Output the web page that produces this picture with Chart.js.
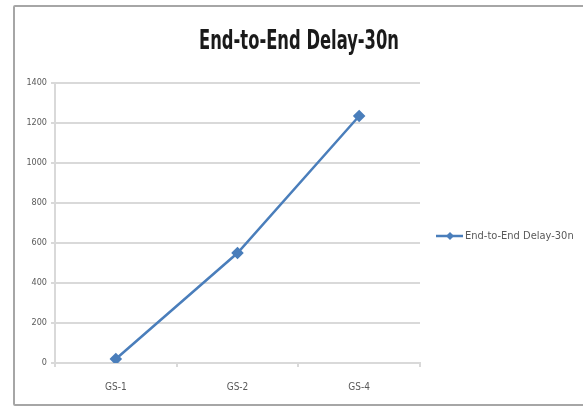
<!DOCTYPE html>
<html>
<head>
<meta charset="utf-8">
<script src="https://cdn.jsdelivr.net/npm/chart.js@4.4.1/dist/chart.umd.min.js"></script>
<style>
  html, body { margin: 0; padding: 0; background: #fff; overflow: hidden; }
  #wrap { position: relative; width: 583px; height: 407px; }
  #frame {
    position: absolute; left: 13px; top: 5px; width: 600px; height: 397px;
    border: 2px solid #a6a6a6; border-radius: 2px; pointer-events: none;
  }
  canvas { position: absolute; left: 0; top: 0; }
</style>
</head>
<body>
<div id="wrap">
  <canvas id="chart" width="583" height="407"></canvas>
  <div id="frame"></div>
</div>
<script>
const chartTitle = 'End-to-End Delay-30n';
const categories = ['GS-1', 'GS-2', 'GS-4'];
const seriesName = 'End-to-End Delay-30n';
const delayValues = [20, 550, 1235];
const yTicks = [0, 200, 400, 600, 800, 1000, 1200, 1400];

const LINE_COLOR = '#4a7ebb';
const TEXT_GRAY = '#595959';
const NARROW = "'Liberation Sans Narrow', 'DejaVu Sans Condensed', sans-serif";

// Condensed bold heading, squeezed horizontally to a fixed width
const headingPlugin = {
  id: 'heading',
  afterDraw(chart) {
    const ctx = chart.ctx;
    ctx.save();
    ctx.font = "bold 26px " + NARROW;
    ctx.fillStyle = '#1a1a1a';
    ctx.textBaseline = 'middle';
    ctx.textAlign = 'center';
    const w = ctx.measureText(chartTitle).width;
    const sx = 200 / w;
    ctx.translate(299, 42);
    ctx.scale(sx, 1);
    ctx.fillText(chartTitle, 0, 0);
    ctx.restore();
  }
};

// Series key at the right: line with diamond marker, then the series name
const sideKeyPlugin = {
  id: 'sideKey',
  afterDraw(chart) {
    const ctx = chart.ctx;
    const ds = chart.data.datasets[0];
    const y = 236;
    ctx.save();
    ctx.strokeStyle = ds.borderColor;
    ctx.lineWidth = 2.5;
    ctx.beginPath(); ctx.moveTo(436, y); ctx.lineTo(463, y); ctx.stroke();
    ctx.fillStyle = ds.borderColor;
    ctx.beginPath();
    ctx.moveTo(450, y - 4); ctx.lineTo(454, y); ctx.lineTo(450, y + 4); ctx.lineTo(446, y);
    ctx.closePath(); ctx.fill();
    ctx.font = "11px " + NARROW;
    ctx.fillStyle = TEXT_GRAY;
    ctx.textBaseline = 'middle';
    ctx.textAlign = 'left';
    ctx.fillText(ds.label, 465, y);
    ctx.restore();
  }
};

new Chart(document.getElementById('chart'), {
  type: 'line',
  data: {
    labels: categories,
    datasets: [{
      label: seriesName,
      data: delayValues,
      borderColor: LINE_COLOR,
      backgroundColor: LINE_COLOR,
      borderWidth: 2.5,
      pointStyle: 'rectRot',
      pointRadius: 4.5,
      pointHoverRadius: 4.5,
      tension: 0
    }]
  },
  plugins: [headingPlugin, sideKeyPlugin],
  options: {
    responsive: false,
    animation: false,
    layout: { padding: { left: 16, right: 163, top: 83, bottom: 0 } },
    plugins: {
      title: { display: false },
      legend: { display: false },
      tooltip: { enabled: false }
    },
    scales: {
      x: {
        offset: true,
        grid: {
          offset: true,
          drawOnChartArea: false,
          drawTicks: true,
          tickLength: 4,
          color: '#d9d9d9',
          lineWidth: 2
        },
        border: { display: true, color: '#d9d9d9', width: 2 },
        ticks: {
          color: TEXT_GRAY,
          font: { family: NARROW, size: 10 },
          padding: 14
        }
      },
      y: {
        min: 0,
        max: 1400,
        afterBuildTicks: (scale) => { scale.ticks = yTicks.map(v => ({ value: v })); },
        afterFit: (scale) => { scale.width = 39; },
        grid: {
          color: '#d9d9d9',
          lineWidth: 2,
          tickLength: 4
        },
        border: { display: true, color: '#d9d9d9', width: 2 },
        ticks: {
          color: TEXT_GRAY,
          font: { family: NARROW, size: 9 },
          padding: 4,
          callback: (v) => String(v)
        }
      }
    }
  }
});
</script>
</body>
</html>
